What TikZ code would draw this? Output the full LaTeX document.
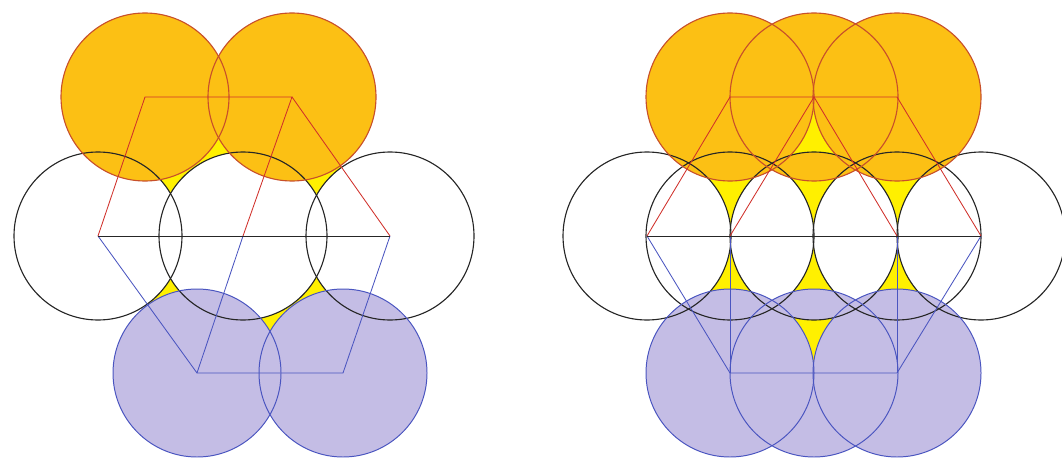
\documentclass[tikz,border=0pt]{standalone}
\usepackage{tikz}
\definecolor{corange}{HTML}{FCC014}
\definecolor{corangeD}{HTML}{C8502A}
\definecolor{cblue}{HTML}{C4BDE5}
\definecolor{cblueD}{HTML}{4A55C0}
\definecolor{cgap}{HTML}{FFF000}
\definecolor{cred}{HTML}{D0302A}
\tikzset{
  blackring/.style={draw=black!85, line width=0.8pt},
  orangering/.style={draw=corangeD, line width=0.8pt},
  bluering/.style={draw=cblueD, line width=0.7pt},
  orangedisc/.style={fill=corange},
  bluedisc/.style={fill=cblue},
  redlink/.style={draw=cred, line width=0.6pt},
  bluelink/.style={draw=cblueD, line width=0.6pt},
  blacklink/.style={draw=black!85, line width=0.7pt},
  gapfill/.style={fill=cgap},
}
% yellow gap left between three discs
\newcommand{\holeat}[1]{%
  \clip (-60,60) -- (1120,60) -- (1120,-520) -- (-60,-520) -- cycle (#1) circle (84);}
\newcommand{\gapat}[3]{%
  \begin{scope}
    \clip (#1) -- (#2) -- (#3) -- cycle;
    \holeat{#1}
    \holeat{#2}
    \holeat{#3}
    \fill[gapfill] (#1) -- (#2) -- (#3) -- cycle;
  \end{scope}}

\begin{document}
\begin{tikzpicture}[x=0.025cm, y=0.025cm]
  \useasboundingbox (0,0) rectangle (1062,-459);
  % left packing
  \coordinate (bL) at (98,-236);
  \coordinate (bM) at (243,-236);
  \coordinate (bR) at (390,-236);
  \coordinate (oL) at (145,-97);
  \coordinate (oR) at (292,-97);
  \coordinate (uL) at (197,-373);
  \coordinate (uR) at (343,-373);
  % right packing
  \coordinate (ra) at (647,-236);
  \coordinate (rb) at (730,-236);
  \coordinate (rc) at (814,-236);
  \coordinate (rd) at (897,-236);
  \coordinate (re) at (981,-236);
  \coordinate (rp) at (730,-97);
  \coordinate (rq) at (814,-97);
  \coordinate (rr) at (897,-97);
  \coordinate (ru) at (730,-373);
  \coordinate (rv) at (814,-373);
  \coordinate (rw) at (897,-373);

  \foreach \c in {oL,oR,rp,rq,rr}
    \fill[orangedisc] (\c) circle (84);
  \foreach \c in {uL,uR,ru,rv,rw}
    \fill[bluedisc] (\c) circle (84);

  \gapat{oL}{oR}{bM}
  \gapat{oL}{bL}{bM}
  \gapat{oR}{bM}{bR}
  \gapat{uL}{bL}{bM}
  \gapat{uR}{bM}{bR}
  \gapat{uL}{uR}{bM}
  \gapat{rp}{rr}{rc}
  \gapat{rp}{ra}{rc}
  \gapat{rr}{rc}{re}
  \gapat{ru}{ra}{rc}
  \gapat{rw}{rc}{re}
  \gapat{ru}{rw}{rc}
  \gapat{rq}{rb}{rd}
  \gapat{rv}{rb}{rd}

  \foreach \c in {bL,bM,bR,ra,rb,rc,rd,re}
    \draw[blackring] (\c) circle (84);
  \foreach \c in {oL,oR,rp,rq,rr}
    \draw[orangering] (\c) circle (84);
  \foreach \c in {uL,uR,ru,rv,rw}
    \draw[bluering] (\c) circle (84);

  \draw[redlink] (bL) -- (oL) -- (oR) -- (bM);
  \draw[redlink] (oR) -- (bR);
  \draw[bluelink] (bL) -- (uL) -- (uR) -- (bR);
  \draw[bluelink] (bM) -- (uL);
  \draw[blacklink] (bL) -- (bR);

  \draw[redlink] (ra) -- (rp) -- (rr) -- (re);
  \draw[redlink] (rb) -- (rq) -- (rd);
  \draw[bluelink] (ra) -- (ru) -- (rw) -- (re);
  \draw[bluelink] (rb) -- (ru);
  \draw[bluelink] (rd) -- (rw);
  \draw[blacklink] (ra) -- (re);
\end{tikzpicture}
\end{document}
